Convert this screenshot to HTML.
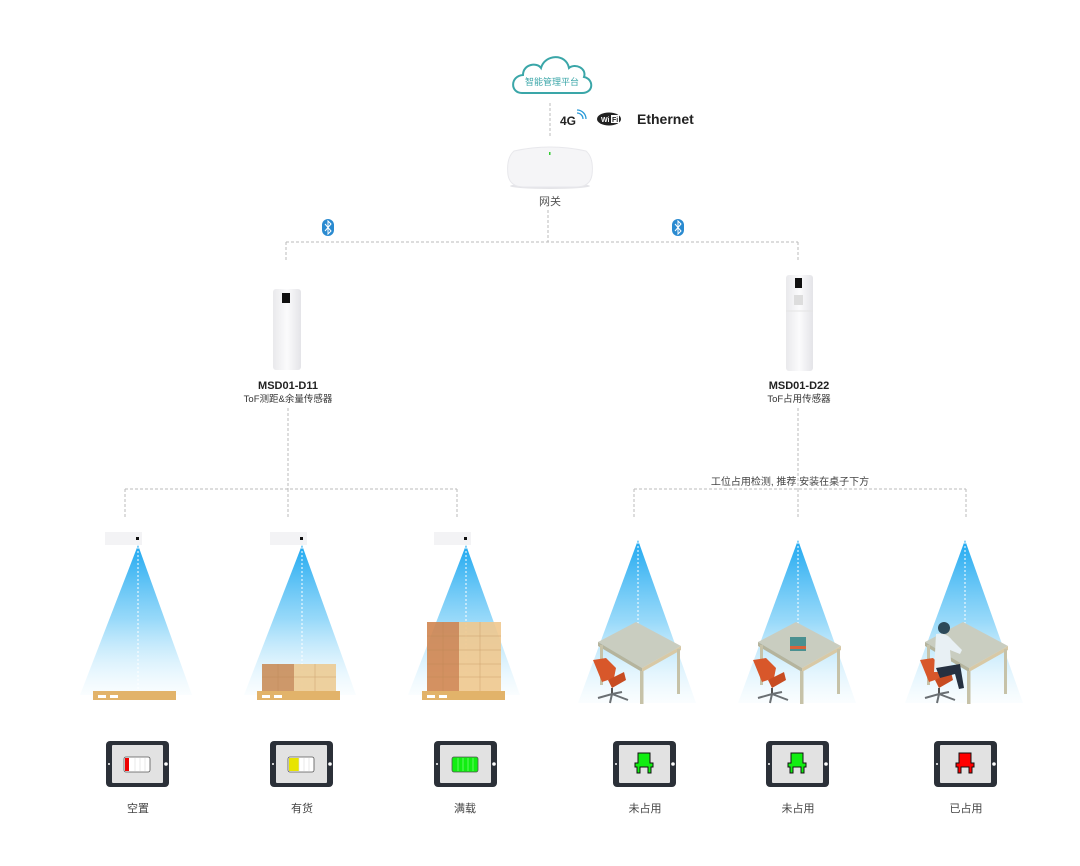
<!DOCTYPE html>
<html><head><meta charset="utf-8"><style>
html,body{margin:0;padding:0;background:#fff;}
svg{display:block;}
text{font-family:"Liberation Sans","Noto Sans CJK SC",sans-serif;}
</style></head><body>
<svg width="1080" height="866" viewBox="0 0 1080 866" xmlns="http://www.w3.org/2000/svg">
<defs>
<linearGradient id="beam" x1="0" y1="0" x2="0" y2="1">
<stop offset="0" stop-color="#1ea8f0"/><stop offset="0.5" stop-color="#7fd0f8" stop-opacity="0.8"/><stop offset="1" stop-color="#eef9fe" stop-opacity="0.3"/>
</linearGradient>
<linearGradient id="dev" x1="0" y1="0" x2="1" y2="0">
<stop offset="0" stop-color="#e9e9ec"/><stop offset="0.5" stop-color="#fbfbfc"/><stop offset="1" stop-color="#e4e4e8"/>
</linearGradient>
<g id="tab">
<rect x="-32" y="0" width="63" height="46" rx="4" fill="#2b3038"/>
<rect x="-26" y="4" width="51" height="38" rx="1" fill="#e2e2e2"/>
<circle cx="-29" cy="23" r="1" fill="#fff"/><circle cx="28" cy="23" r="1.8" fill="#fff"/>
</g>
<g id="beamL"><polygon points="0,0 -58,150 54,150" fill="url(#beam)"/><line x1="0" y1="2" x2="0" y2="150" stroke="#fff" stroke-dasharray="2,2" stroke-width="1"/></g>
<g id="beamR"><polygon points="0,0 -60,163 58,163" fill="url(#beam)"/><line x1="0" y1="2" x2="0" y2="88" stroke="#fff" stroke-dasharray="2,2" stroke-width="1"/></g>
<g id="desk">
<polygon points="-40,102 -2,82 43,106 4,128" fill="#c9cdc0"/>
<polygon points="-40,102 4,128 4,132 -40,106" fill="#b5b49d"/>
<polygon points="4,128 43,106 43,110 4,132" fill="#d8c9a6"/>
<rect x="-38" y="105" width="3" height="40" fill="#c6c2a8"/>
<rect x="2" y="131" width="3.5" height="33" fill="#c6c2a8"/>
<rect x="39" y="109" width="3" height="45" fill="#c6c2a8"/>
<path d="M-45,120 L-32,118 L-22,128 L-24,138 L-36,142 Z" fill="#d8572a"/>
<path d="M-30,140 L-14,132 L-12,140 L-26,148 Z" fill="#c84c22"/>
<line x1="-26" y1="148" x2="-26" y2="155" stroke="#555" stroke-width="2"/>
<path d="M-40,158 L-26,154 L-10,160 M-26,154 L-28,163 M-26,154 L-16,152" stroke="#6a6f73" stroke-width="2" fill="none"/>
</g>
</defs>

<!-- cloud -->
<path d="M522,93 C510,93 510,76 523,75 C523,64 537,62 541,68 C545,54 566,53 569,68 C575,63 587,68 584,77 C594,79 594,93 582,93 Z" fill="#fff" stroke="#3aa6a8" stroke-width="2"/>
<text x="552" y="85" font-size="9" fill="#3aa6a8" text-anchor="middle">智能管理平台</text>
<line x1="550" y1="103" x2="550" y2="138" stroke="#bbb" stroke-dasharray="3,2"/>
<text x="560" y="125" font-size="12" font-weight="bold" fill="#222">4G</text>
<path d="M577,113 a6,6 0 0 1 6,6 M577,110 a9,9 0 0 1 9,9" stroke="#2a9ad8" stroke-width="1.3" fill="none"/>
<ellipse cx="609" cy="119" rx="12" ry="6.5" fill="#222"/>
<text x="601" y="122" font-size="7" font-weight="bold" fill="#fff">Wi</text>
<rect x="611" y="115" width="8" height="8" fill="#fff"/><text x="612" y="122" font-size="7" font-weight="bold" fill="#222">Fi</text>
<text x="637" y="124" font-size="14" font-weight="bold" fill="#222">Ethernet</text>
<!-- gateway -->
<ellipse cx="550" cy="186" rx="40" ry="3" fill="#e4e4e8"/>
<path d="M514,151 Q550,143 586,151 Q594,158 592,175 Q590,187 576,187 L524,187 Q510,187 508,175 Q506,158 514,151 Z" fill="#f5f5f7" stroke="#e8e8ec"/>
<rect x="549" y="152" width="1.5" height="3" fill="#3c3"/>
<text x="550" y="205" font-size="11" fill="#555" text-anchor="middle">网关</text>

<g stroke="#bbb" stroke-dasharray="3,2" fill="none">
<path d="M548,210 V242 M286,242 H798 M286,242 V262 M798,242 V262"/>
<path d="M288,408 V489 M125,489 H457 M125,489 V518 M288,489 V518 M457,489 V518"/>
<path d="M798,408 V489 M634,489 H966 M634,489 V518 M798,489 V518 M966,489 V518"/>
</g>
<g>
<rect x="322" y="219" width="12" height="17" rx="6" fill="#2a8ad0"/>
<path d="M325,224 L331,231 L328,234 V221 L331,224 L325,231" stroke="#fff" stroke-width="1" fill="none"/>
<rect x="672" y="219" width="12" height="17" rx="6" fill="#2a8ad0"/>
<path d="M675,224 L681,231 L678,234 V221 L681,224 L675,231" stroke="#fff" stroke-width="1" fill="none"/>
</g>
<!-- sensors -->
<rect x="273" y="289" width="28" height="81" rx="3" fill="url(#dev)"/>
<rect x="282" y="293" width="8" height="10" fill="#111"/>
<rect x="786" y="275" width="27" height="96" rx="3" fill="url(#dev)"/>
<rect x="795" y="278" width="7" height="10" fill="#111"/>
<rect x="794" y="295" width="9" height="10" fill="#ddd"/>
<line x1="786" y1="311" x2="813" y2="311" stroke="#e4e4e4"/>
<text x="288" y="389" font-size="11" font-weight="bold" fill="#222" text-anchor="middle">MSD01-D11</text>
<text x="288" y="402" font-size="9.5" fill="#333" text-anchor="middle">ToF测距&amp;余量传感器</text>
<text x="799" y="389" font-size="11" font-weight="bold" fill="#222" text-anchor="middle">MSD01-D22</text>
<text x="799" y="402" font-size="9.5" fill="#333" text-anchor="middle">ToF占用传感器</text>
<text x="790" y="485" font-size="10" fill="#444" text-anchor="middle">工位占用检测, 推荐 安装在桌子下方</text>

<!-- left scenes -->
<g>
<rect x="105" y="532" width="37" height="13" fill="#f3f3f5"/><rect x="136" y="537" width="3" height="3" fill="#111"/>
<use href="#beamL" x="138" y="545"/>
<rect x="270" y="532" width="37" height="13" fill="#f3f3f5"/><rect x="300" y="537" width="3" height="3" fill="#111"/>
<use href="#beamL" x="302" y="545"/>
<rect x="434" y="532" width="37" height="13" fill="#f3f3f5"/><rect x="464" y="537" width="3" height="3" fill="#111"/>
<use href="#beamL" x="466" y="545"/>
</g>
<!-- pallets -->
<g fill="#e2b36a">
<rect x="93" y="691" width="83" height="9"/><rect x="257" y="691" width="83" height="9"/><rect x="422" y="691" width="83" height="9"/>
</g>
<g fill="#fff"><rect x="98" y="695" width="8" height="3"/><rect x="110" y="695" width="8" height="3"/><rect x="262" y="695" width="8" height="3"/><rect x="274" y="695" width="8" height="3"/><rect x="427" y="695" width="8" height="3"/><rect x="439" y="695" width="8" height="3"/></g>
<rect x="262" y="664" width="32" height="27" fill="#c98d5a" opacity="0.9"/>
<rect x="294" y="664" width="42" height="27" fill="#eccb94" opacity="0.9"/>
<rect x="427" y="622" width="32" height="69" fill="#d08550" opacity="0.9"/>
<rect x="459" y="622" width="42" height="69" fill="#f0c88e" opacity="0.9"/>
<g stroke="#b88450" stroke-width="0.5" opacity="0.6"><path d="M262,677 H336 M278,664 V691 M315,664 V691"/><path d="M427,636 H501 M427,650 H501 M427,664 H501 M427,677 H501 M443,622 V691 M480,622 V691"/></g>

<!-- right scenes -->
<use href="#beamR" x="638" y="540"/><use href="#desk" x="638" y="540"/>
<use href="#beamR" x="798" y="540"/><use href="#desk" x="798" y="540"/>
<rect x="790" y="637" width="16" height="14" fill="#4a9090"/><rect x="790" y="646" width="16" height="3" fill="#d7633b"/>
<use href="#beamR" x="965" y="540"/><use href="#desk" x="965" y="540"/>
<circle cx="944" cy="628" r="6" fill="#2d4a5a"/>
<path d="M936,634 Q946,632 952,640 L962,650 L960,654 L950,650 L952,672 L934,672 Z" fill="#e8f0f4"/>
<path d="M936,668 L960,664 L964,688 L959,689 L955,674 L940,678 Z" fill="#253040"/>

<!-- tablets -->
<use href="#tab" x="138" y="741"/><use href="#tab" x="302" y="741"/><use href="#tab" x="466" y="741"/>
<use href="#tab" x="645" y="741"/><use href="#tab" x="798" y="741"/><use href="#tab" x="966" y="741"/>
<g stroke="#555" stroke-width="0.8">
<rect x="124" y="757" width="26" height="15" rx="2" fill="#fff"/><rect x="125" y="758" width="4" height="13" fill="#e00" stroke="none"/>
<rect x="288" y="757" width="26" height="15" rx="2" fill="#fff"/><rect x="289" y="758" width="10" height="13" fill="#e8e400" stroke="none"/>
<rect x="452" y="757" width="26" height="15" rx="2" fill="#1e1"/>
</g>
<g stroke="#ddd" stroke-width="0.6">
<path d="M135,758 v13 M140,758 v13 M145,758 v13 M299,758 v13 M304,758 v13 M309,758 v13"/>
<path d="M458,758 v13 M463,758 v13 M468,758 v13 M473,758 v13" stroke="#9f9"/>
</g>
<g fill="#1e1" stroke="#111" stroke-width="1">
<path d="M638,753 h12 v10 h3 v4 h-2 v6 h-3 v-6 h-8 v6 h-3 v-6 h-2 v-4 h3 z"/>
<path d="M791,753 h12 v10 h3 v4 h-2 v6 h-3 v-6 h-8 v6 h-3 v-6 h-2 v-4 h3 z"/>
<path d="M959,753 h12 v10 h3 v4 h-2 v6 h-3 v-6 h-8 v6 h-3 v-6 h-2 v-4 h3 z" fill="#f00"/>
</g>
<g font-size="11" fill="#444" text-anchor="middle">
<text x="138" y="812">空置</text><text x="302" y="812">有货</text><text x="465" y="812">满载</text>
<text x="645" y="812">未占用</text><text x="798" y="812">未占用</text><text x="966" y="812">已占用</text>
</g>
</svg>
</body></html>
